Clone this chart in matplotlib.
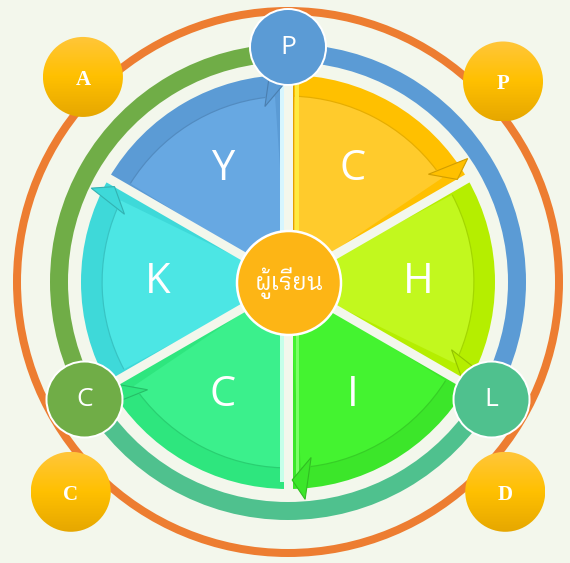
import numpy as np
import matplotlib
matplotlib.use("Agg")
import matplotlib.pyplot as plt
from matplotlib.patches import Circle, Wedge, Polygon
from matplotlib.colors import LinearSegmentedColormap, to_rgb
from matplotlib import font_manager as fm
from matplotlib.ft2font import FT2Font

# six wedges, listed clockwise from the top (angles in degrees)
seg_labels = ["C", "H", "I", "C", "K", "Y"]
seg_lo = [30, -30, -90, -150, 150, 90]
seg_hi = [90, 30, -30, -90, 210, 150]
seg_band = ["#FFC000", "#B5EE00", "#3CE62A", "#2EE67E", "#3ED9D9", "#5B9BD5"]
seg_inner = ["#FFCB2C", "#C2F81E", "#44F330", "#3BF08C", "#4CE6E4", "#67A8E2"]

# coloured ring around the wedges
ring_from = [90, -30, 210]
ring_to = [210, 90, 330]
ring_colors = ["#70AD47", "#5B9BD5", "#4FC18E"]

# small circles sitting on the ring
node_labels = ["P", "L", "C"]
node_angles = [90, -30, 210]
node_colors = ["#5B9BD5", "#4FC18E", "#70AD47"]

# yellow circles on the outer orange ring
corner_labels = ["A", "P", "D", "C"]
corner_angles = [135, 43, -44, 224]
corner_dist = [290, 294, 302, 302]

center_text = "ผู้เรียน"

# pick a font that has Thai glyphs, looped styles first
thai_fonts = set()
for f in fm.fontManager.ttflist:
    try:
        if 0x0E1C in FT2Font(f.fname).get_charmap():
            thai_fonts.add(f.name)
    except Exception:
        pass
thai_font = "DejaVu Sans"
for name in ["IBM Plex Sans Thai Looped", "Noto Sans Thai Looped", "Sarabun",
             "Noto Sans Thai", "IBM Plex Sans Thai"] + sorted(thai_fonts):
    if name in thai_fonts:
        thai_font = name
        break

bg = "#F3F7EC"
W, H = 570, 563
cx, cy = 288, 281
px = 0.72  # points per pixel at dpi 100


def pol(r, deg):
    a = np.radians(deg)
    return cx + r * np.cos(a), cy + r * np.sin(a)


def shade(c, k):
    return tuple(v * k for v in to_rgb(c))


fig = plt.figure(figsize=(5.7, 5.63), dpi=100, facecolor=bg)
ax = fig.add_axes([0, 0, 1, 1])
ax.set_xlim(0, W)
ax.set_ylim(0, H)
ax.set_aspect("equal")
ax.axis("off")

# outer orange ring
ax.add_patch(Circle((cx, cy), 271, fill=False, ec="#ED7D31", lw=8 * px, zorder=1))

# middle ring segments
for a0, a1, c in zip(ring_from, ring_to, ring_colors):
    ax.add_patch(Wedge((cx, cy), 238, a0, a1, width=18, fc=c, ec="none", zorder=2))

# wedges
for lab, lo, hi, cb, ci in zip(seg_labels, seg_lo, seg_hi, seg_band, seg_inner):
    ax.add_patch(Wedge((cx, cy), 207, lo, hi, fc=cb, ec="none", zorder=3))
    ax.add_patch(Wedge((cx, cy), 186, lo + 4, hi - 2, fc=ci, ec="none", zorder=4))
    ax.add_patch(Wedge((cx, cy), 186.5, lo + 7, hi - 2, width=1.2, fc=shade(cb, 0.9),
                       ec="none", zorder=5))
    mid = (lo + hi) / 2
    tx, ty = pol(130, mid)
    ax.text(tx, ty, lab, color="white", fontsize=30, fontfamily="Open Sans",
            ha="center", va="center", zorder=9)

# light 3D strips along the vertical gap
for off, c, w, sgn in [(-6, "#D6F6FF", 4, 1), (5, "#DFA200", 2, 1), (9, "#FFEA40", 4, 1),
                       (-6, "#C6FFEA", 4, -1), (9, "#7BFF66", 3, -1)]:
    ax.plot([cx + off, cx + off], [cy, cy + sgn * 200], color=c, lw=w * px,
            solid_capstyle="butt", zorder=5)

# gaps between wedges
for a in [90, 30, -30, -90, -150, 150]:
    x0, y0 = pol(0, a)
    x1, y1 = pol(212, a)
    ax.plot([x0, x1], [y0, y1], color=bg, lw=9 * px, solid_capstyle="butt", zorder=6)

# arrow heads at the clockwise end of each wedge
for lo, cb in zip(seg_lo, seg_band):
    pts = [pol(218, lo + 4.5), pol(177, lo + 7.5), pol(198, lo + 1.2)]
    ax.add_patch(Polygon(pts, closed=True, fc=cb, ec=shade(cb, 0.82), lw=0.8,
                         zorder=7))

# centre circle
ax.add_patch(Circle((cx + 1, cy - 1), 52, fc="#FDB515", ec="white", lw=2.5 * px, zorder=8))
ax.text(cx + 1, cy - 1, center_text, color="white", fontsize=17,
        fontfamily=[thai_font, "DejaVu Sans"], ha="center", va="center", zorder=9)

# nodes on the middle ring
for lab, a, c in zip(node_labels, node_angles, node_colors):
    x, y = pol(235, a)
    ax.add_patch(Circle((x, y), 38, fc=c, ec="white", lw=2 * px, zorder=10))
    ax.text(x, y, lab, color="white", fontsize=19, fontfamily="Open Sans",
            ha="center", va="center", zorder=11)

# yellow corner circles with a vertical gradient
cmap = LinearSegmentedColormap.from_list("gold", ["#E6A700", "#FFC000", "#FFC63A"])
grad = np.linspace(0, 1, 128).reshape(-1, 1)
for lab, a, d in zip(corner_labels, corner_angles, corner_dist):
    x, y = pol(d, a)
    r = 40
    circ = Circle((x, y), r, fc="none", ec="none", zorder=10)
    ax.add_patch(circ)
    im = ax.imshow(grad, extent=[x - r, x + r, y - r, y + r], origin="lower",
                   cmap=cmap, aspect="auto", zorder=10)
    im.set_clip_path(circ)
    ax.text(x, y - 3, lab, color="white", fontsize=15, fontweight="bold",
            fontfamily="Liberation Serif", ha="center", va="center", zorder=11)

ax.set_xlim(0, W)
ax.set_ylim(0, H)

fig.savefig("out.png", dpi=100, facecolor=bg)
